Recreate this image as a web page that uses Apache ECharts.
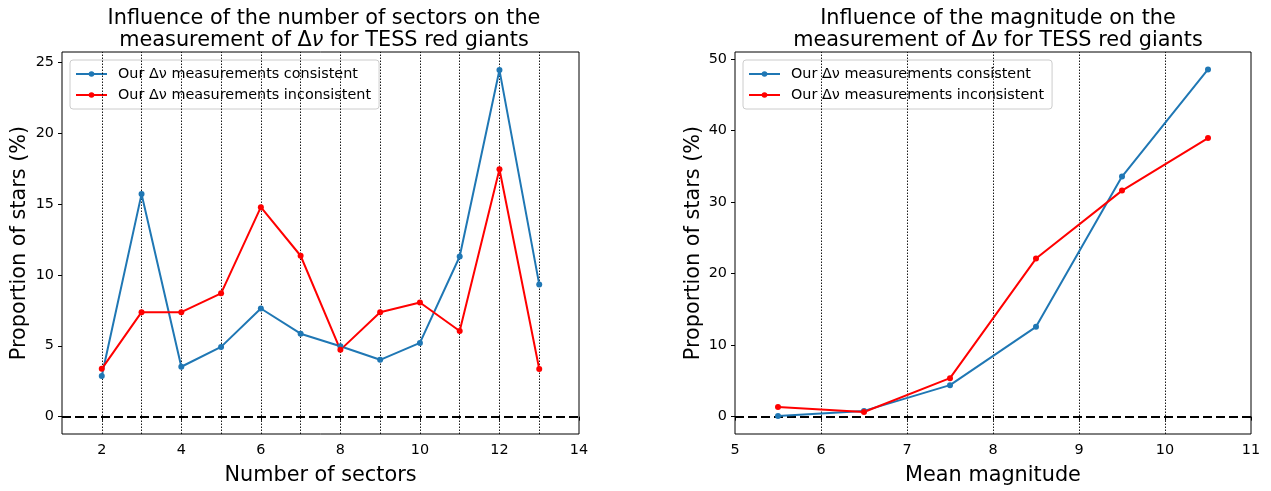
<!DOCTYPE html>
<html>
<head>
<meta charset="utf-8">
<script src="https://cdn.jsdelivr.net/npm/echarts@6/dist/echarts.min.js"></script>
<style>
  html, body { margin: 0; padding: 0; background: #fff; }
  #chart { width: 1271px; height: 491px; }
</style>
</head>
<body>
<div id="chart"></div>
<script>
// Number of TESS sectors and the share of stars (%) in each bin
const sectors = [2, 3, 4, 5, 6, 7, 8, 9, 10, 11, 12, 13];
const sectorsConsistent = [2.87, 15.7, 3.52, 4.92, 7.63, 5.85, 4.97, 4.01, 5.2, 11.3, 24.45, 9.33];
const sectorsInconsistent = [3.37, 7.37, 7.37, 8.7, 14.78, 11.35, 4.71, 7.37, 8.05, 6.04, 17.45, 3.36];

// Mean magnitude bins and the share of stars (%) in each bin
const magnitudes = [5.5, 6.5, 7.5, 8.5, 9.5, 10.5];
const magConsistent = [0.08, 0.8, 4.4, 12.55, 33.56, 48.55];
const magInconsistent = [1.34, 0.65, 5.38, 22.1, 31.6, 38.95];

// Tick labels
const sectorTicks = [2, 4, 6, 8, 10, 12, 14];
const sectorYTicks = [0, 5, 10, 15, 20, 25];
const magTicks = [5, 6, 7, 8, 9, 10, 11];
const magYTicks = [0, 10, 20, 30, 40, 50];

const NAME_OK = 'Our Δν measurements consistent';
const NAME_BAD = 'Our Δν measurements inconsistent';
const BLUE = '#1f77b4';
const RED = '#ff0000';
const FONT = 'DejaVu Sans';
const SMALL = 14.4;
const LARGE = 20.8;

const pairs = (xs, ys) => xs.map((x, i) => [x, ys[i]]);

function lineSeries(name, color, xs, ys, idx) {
  return {
    name: name,
    type: 'line',
    xAxisIndex: idx,
    yAxisIndex: idx,
    data: pairs(xs, ys),
    symbol: 'circle',
    symbolSize: 6,
    itemStyle: { color: color },
    lineStyle: { color: color, width: 2 },
    z: 5
  };
}

function guideSeries(idx, xs) {
  return {
    name: 'guides' + idx,
    type: 'line',
    xAxisIndex: idx,
    yAxisIndex: idx,
    data: [],
    silent: true,
    z: 3,
    markLine: {
      silent: true,
      symbol: 'none',
      animation: false,
      label: { show: false },
      data: xs.map(x => ({ xAxis: x, lineStyle: { color: '#000', width: 0.9, type: [1.5, 1.5] } }))
        .concat([{ yAxis: 0, lineStyle: { color: '#000', width: 2, type: [9, 4] } }])
    }
  };
}

function xAxisDef(idx, min, max, ticks, name) {
  return {
    type: 'value',
    gridIndex: idx,
    min: min,
    max: max,
    splitLine: { show: false },
    axisLine: { show: false },
    axisTick: { show: true, length: 4, lineStyle: { color: '#000' }, customValues: ticks },
    axisLabel: { color: '#000', fontFamily: FONT, fontSize: SMALL, margin: 9, customValues: ticks },
    name: name,
    nameLocation: 'middle',
    nameGap: 31,
    nameTextStyle: { color: '#000', fontFamily: FONT, fontSize: LARGE }
  };
}

function yAxisDef(idx, min, max, ticks) {
  return {
    type: 'value',
    gridIndex: idx,
    min: min,
    max: max,
    splitLine: { show: false },
    axisLine: { show: false },
    axisTick: { show: true, length: 4, lineStyle: { color: '#000' }, customValues: ticks },
    axisLabel: { color: '#000', fontFamily: FONT, fontSize: SMALL, margin: 8, customValues: ticks },
    name: 'Proportion of stars (%)',
    nameLocation: 'middle',
    nameGap: idx === 0 ? 32 : 31,
    nameTextStyle: { color: '#000', fontFamily: FONT, fontSize: LARGE }
  };
}

function legendDef(idx, left) {
  return {
    left: left,
    top: 60,
    orient: 'vertical',
    data: [NAME_OK, NAME_BAD],
    itemWidth: 31,
    itemHeight: 7,
    itemGap: 7,
    padding: [7, 8, 7, 5],
    backgroundColor: 'rgba(255,255,255,0.8)',
    borderColor: '#cccccc',
    borderWidth: 1,
    borderRadius: 3,
    textStyle: { color: '#000', fontFamily: FONT, fontSize: SMALL, padding: [0, 0, 0, 6] }
  };
}

const titleStyle = {
  color: '#000',
  fontFamily: FONT,
  fontSize: LARGE,
  fontWeight: 'normal',
  lineHeight: 22,
  rich: { i: { fontStyle: 'italic', fontFamily: FONT, fontSize: LARGE, color: '#000', lineHeight: 22 } }
};

const option = {
  animation: false,
  backgroundColor: '#fff',
  title: [
    {
      text: 'Influence of the number of sectors on the\nmeasurement of Δ{i|ν} for TESS red giants',
      left: 319, top: 3, textAlign: 'center', textStyle: titleStyle
    },
    {
      text: 'Influence of the magnitude on the\nmeasurement of Δ{i|ν} for TESS red giants',
      left: 993, top: 3, textAlign: 'center', textStyle: titleStyle
    }
  ],
  legend: [legendDef(0, 70), legendDef(1, 743)],
  grid: [
    { left: 62, top: 52, width: 517, height: 384, show: true, borderColor: '#000', borderWidth: 1, backgroundColor: 'transparent' },
    { left: 735, top: 52, width: 516, height: 384, show: true, borderColor: '#000', borderWidth: 1, backgroundColor: 'transparent' }
  ],
  xAxis: [
    xAxisDef(0, 1, 14, sectorTicks, 'Number of sectors'),
    xAxisDef(1, 5, 11, magTicks, 'Mean magnitude')
  ],
  yAxis: [
    yAxisDef(0, -1.225, 25.725, sectorYTicks),
    yAxisDef(1, -2.43, 50.98, magYTicks)
  ],
  series: [
    guideSeries(0, sectors),
    guideSeries(1, [6, 7, 8, 9, 10]),
    lineSeries(NAME_OK, BLUE, sectors, sectorsConsistent, 0),
    lineSeries(NAME_BAD, RED, sectors, sectorsInconsistent, 0),
    lineSeries(NAME_OK, BLUE, magnitudes, magConsistent, 1),
    lineSeries(NAME_BAD, RED, magnitudes, magInconsistent, 1)
  ]
};

const chart = echarts.init(document.getElementById('chart'), null, { renderer: 'canvas' });
chart.setOption(option);
</script>
</body>
</html>
